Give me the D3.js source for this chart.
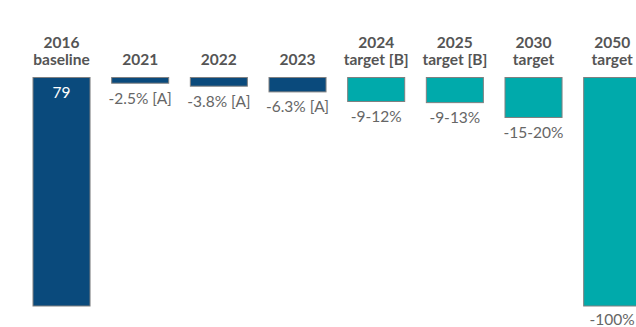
<!DOCTYPE html>
<html>
<head>
<meta charset="utf-8">
<script src="https://cdn.jsdelivr.net/npm/d3@7"></script>
<style>
  html, body { margin: 0; padding: 0; background: #fff; }
  svg { display: block; }
  text { font-family: Lato, "Open Sans", sans-serif; }
</style>
</head>
<body>
<svg id="chart" width="636" height="327"></svg>
<script>
// Column headings (two lines; empty first line for single-line headings)
const headTop = ["2016", "", "", "", "2024", "2025", "2030", "2050"];
const headBottom = ["baseline", "2021", "2022", "2023", "target [B]", "target [B]", "target", "target"];

// Baseline emissions and reductions relative to it (%); target ranges use their midpoint
const baselineValue = 79;
const reductions = [2.5, 3.8, 6.3, 10.5, 11, 17.5, 100];
const valueLabels = ["79", "-2.5% [A]", "-3.8% [A]", "-6.3% [A]", "-9-12%", "-9-13%", "-15-20%", "-100%"];
const kinds = ["actual", "actual", "actual", "actual", "target", "target", "target", "target"];

const colors = { actual: "#0a4a7c", target: "#00aaab" };

const rows = headBottom.map((h, i) => ({
  key: i,
  top: headTop[i],
  bottom: h,
  value: i === 0 ? baselineValue : baselineValue * reductions[i - 1] / 100,
  label: valueLabels[i],
  kind: kinds[i]
}));

const svg = d3.select("#chart");

const x = d3.scaleBand()
  .domain(rows.map(d => d.key))
  .range([33, 640.7])
  .paddingInner(0.275)
  .paddingOuter(0);

const y = d3.scaleLinear()
  .domain([0, baselineValue])
  .range([77.5, 306]);

// Headings
const heads = svg.append("g").selectAll("g").data(rows).join("g")
  .attr("transform", d => `translate(${x(d.key) + x.bandwidth() / 2},0)`);
heads.append("text")
  .attr("y", 47.5)
  .attr("text-anchor", "middle")
  .attr("font-size", 15.5)
  .attr("font-weight", 700)
  .attr("fill", "#555555")
  .text(d => d.top);
heads.append("text")
  .attr("y", 65)
  .attr("text-anchor", "middle")
  .attr("font-size", 15.5)
  .attr("font-weight", 700)
  .attr("fill", "#555555")
  .text(d => d.bottom);

// Bars hanging down from the common top line
svg.append("g").selectAll("rect").data(rows).join("rect")
  .attr("x", d => x(d.key))
  .attr("y", y(0))
  .attr("width", x.bandwidth())
  .attr("height", d => y(d.value) - y(0))
  .attr("fill", d => colors[d.kind])
  .attr("stroke", "#808080")
  .attr("stroke-width", 1);

// Value labels: inside the baseline bar, below every other bar
svg.append("g").selectAll("text").data(rows).join("text")
  .attr("x", d => x(d.key) + x.bandwidth() / 2)
  .attr("y", (d, i) => i === 0 ? y(0) + 20.5 : Math.min(y(d.value) + 20.5, 324.5))
  .attr("text-anchor", "middle")
  .attr("font-size", 15.5)
  .attr("fill", (d, i) => i === 0 ? "#ffffff" : "#666666")
  .text(d => d.label);
</script>
</body>
</html>
